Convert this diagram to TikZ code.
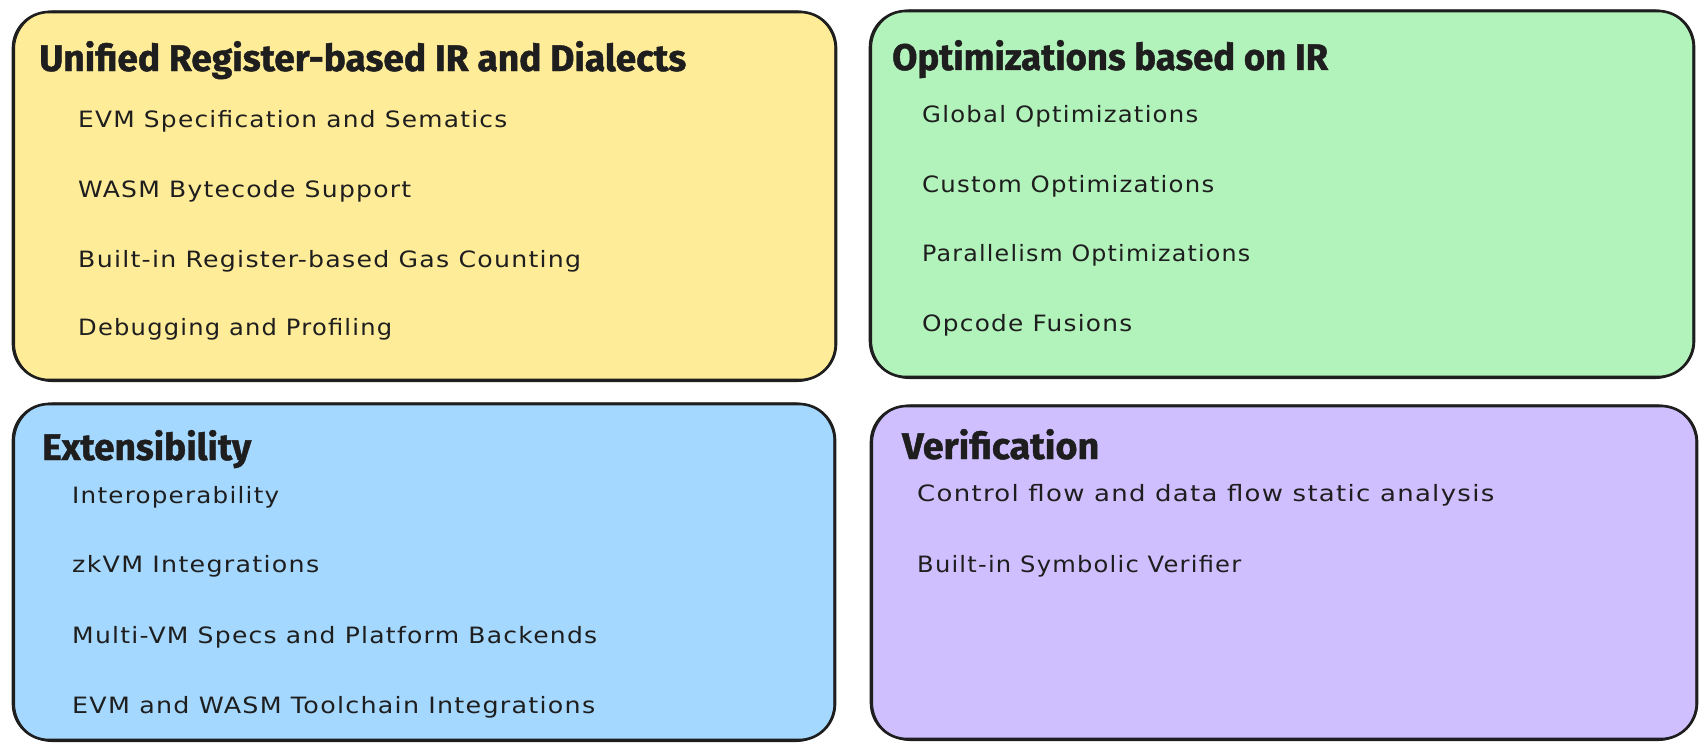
\documentclass[tikz,border=0pt]{standalone}
\usepackage{fontspec}
\setmainfont{DejaVu Sans}
\newfontfamily\headfont{Fira Sans}[BoldFeatures={FakeBold=1.2}]
\newfontfamily\handfont[LetterSpace=5]{DejaVu Sans}

\definecolor{ink}{HTML}{1E1E1E}
\definecolor{yelfill}{HTML}{FFEC99}
\definecolor{grnfill}{HTML}{B2F2BB}
\definecolor{blufill}{HTML}{A5D8FF}
\definecolor{prpfill}{HTML}{D0BFFF}

% squeeze or stretch a text horizontally to a given width
\newlength\fitlen
\newcommand\fitw[2]{\settowidth\fitlen{#2}\pgfmathsetmacro\fitratio{#1/\fitlen}\scalebox{\fitratio}[1]{#2}}

\tikzset{
  panel/.style={fill=#1, draw=ink, line width=2.6pt, rounded corners=36pt},
  sketchline/.style={draw=ink, line width=1.1pt, rounded corners=38pt},
  head/.style={anchor=base west, inner sep=0pt, text=ink,
    font=\headfont\bfseries\fontsize{37}{40}\selectfont},
  item/.style={anchor=base west, inner sep=0pt, text=ink,
    font=\handfont\fontsize{22.5}{26}\selectfont},
}

\begin{document}
\begin{tikzpicture}[x=1pt,y=-1pt]
\useasboundingbox (0,0) rectangle (1707,752);

% panels
\path[panel=yelfill] (13,12) rectangle (836,380);
\path[sketchline] (14.5,11) rectangle (835,381.5);
\path[panel=grnfill] (870,11) rectangle (1694,377);
\path[sketchline] (871.5,10) rectangle (1693,378.5);
\path[panel=blufill] (13,404) rectangle (835,740);
\path[sketchline] (14.5,403) rectangle (834,741.5);
\path[panel=prpfill] (871,406) rectangle (1697,739);
\path[sketchline] (872.5,405) rectangle (1696,740.5);

% unified IR
\node[head] (t1) at (39,71) {\fitw{647pt}{Unified Register-based IR and Dialects}};
\node[item] (a1) at (78,127) {\fitw{429pt}{EVM Specification and Sematics}};
\node[item] (a2) at (78,197) {\fitw{333pt}{WASM Bytecode Support}};
\node[item] (a3) at (78,267) {\fitw{503pt}{Built-in Register-based Gas Counting}};
\node[item] (a4) at (78,335) {\fitw{314pt}{Debugging and Profiling}};

% optimizations
\node[head] (t2) at (892,70) {\fitw{436pt}{Optimizations based on IR}};
\node[item] (b1) at (922,122) {\fitw{276pt}{Global Optimizations}};
\node[item] (b2) at (922,192) {\fitw{292pt}{Custom Optimizations}};
\node[item] (b3) at (922,261) {\fitw{328pt}{Parallelism Optimizations}};
\node[item] (b4) at (922,331) {\fitw{210pt}{Opcode Fusions}};

% extensibility
\node[head] (t3) at (42,460) {\fitw{209pt}{Extensibility}};
\node[item] (c1) at (72,503) {\fitw{207pt}{Interoperability}};
\node[item] (c2) at (72,572) {\fitw{247pt}{zkVM Integrations}};
\node[item] (c3) at (72,643) {\fitw{525pt}{Multi-VM Specs and Platform Backends}};
\node[item] (c4) at (72,713) {\fitw{523pt}{EVM and WASM Toolchain Integrations}};

% verification
\node[head] (t4) at (902,459) {\fitw{197pt}{Verification}};
\node[item] (d1) at (917,501) {\fitw{577pt}{Control flow and data flow static analysis}};
\node[item] (d2) at (917,572) {\fitw{324pt}{Built-in Symbolic Verifier}};
\end{tikzpicture}
\end{document}
